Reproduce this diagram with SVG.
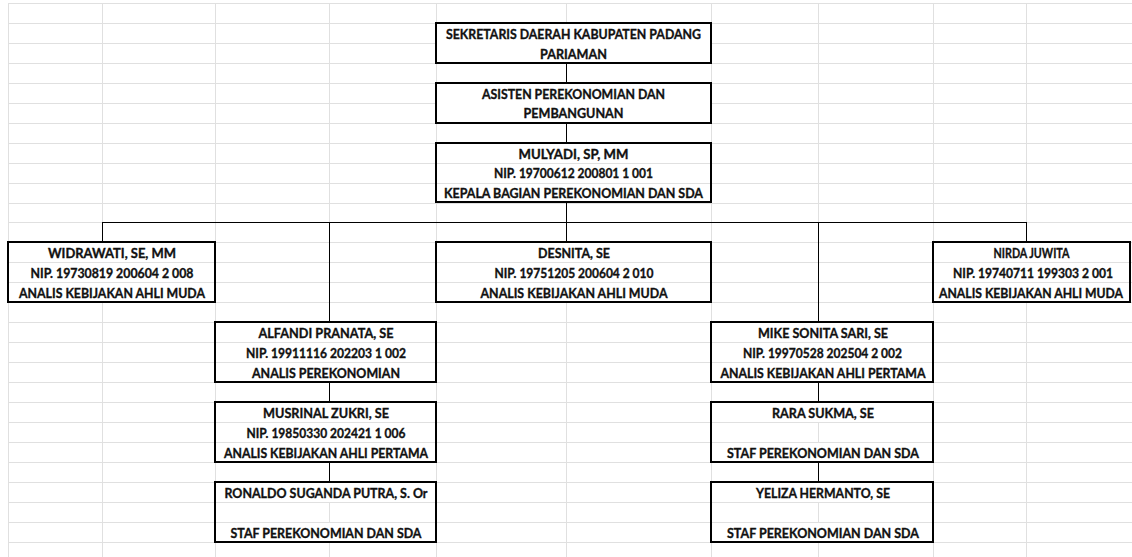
<svg xmlns="http://www.w3.org/2000/svg" width="1132" height="557" viewBox="0 0 1132 557">
<style>
.g{stroke:#e0e0e0;stroke-width:1;fill:none}
.m{fill:#fff;stroke:none}
.box{fill:none;stroke:#000;stroke-width:2}
.c{stroke:#000;stroke-width:1;fill:none}
text{font-family:Lato,"Liberation Sans",sans-serif;font-weight:700;font-size:13.5px;fill:#111;stroke:#111;stroke-width:0.35;text-anchor:middle}
</style>
<rect x="0" y="0" width="1132" height="557" fill="#fff"/>
<g id="grid">
<path class="g" d="M8.5 3V557M102.5 3V557M215.5 3V557M329.5 3V557M436.5 3V557M566.5 3V557M711.5 3V557M818.5 3V557M933.5 3V557M1026.5 3V557"/>
<path class="g" d="M8 3.5H1132M8 23.5H1132M8 43.5H1132M8 63.5H1132M8 83.5H1132M8 103.5H1132M8 123.5H1132M8 143.5H1132M8 163.5H1132M8 183.5H1132M8 203.5H1132M8 222.5H1132M8 242.5H1132M8 262.5H1132M8 282.5H1132M8 302.5H1132M8 322.5H1132M8 342.5H1132M8 362.5H1132M8 382.5H1132M8 402.5H1132M8 422.5H1132M8 442.5H1132M8 462.5H1132M8 482.5H1132M8 502.5H1132M8 522.5H1132M8 542.5H1132"/>
</g>
<g id="masks">
<rect class="m" x="437" y="24" width="274" height="39"/>
<rect class="m" x="437" y="84" width="274" height="39"/>
<rect class="m" x="437" y="144" width="274" height="19"/>
<rect class="m" x="437" y="164" width="274" height="19"/>
<rect class="m" x="437" y="184" width="274" height="18"/>
<rect class="m" x="9" y="243" width="206" height="19"/>
<rect class="m" x="9" y="263" width="206" height="19"/>
<rect class="m" x="9" y="283" width="206" height="19"/>
<rect class="m" x="437" y="243" width="274" height="19"/>
<rect class="m" x="437" y="263" width="274" height="19"/>
<rect class="m" x="437" y="283" width="274" height="19"/>
<rect class="m" x="934" y="243" width="196" height="19"/>
<rect class="m" x="934" y="263" width="196" height="19"/>
<rect class="m" x="934" y="283" width="196" height="19"/>
<rect class="m" x="216" y="323" width="220" height="19"/>
<rect class="m" x="216" y="343" width="220" height="19"/>
<rect class="m" x="216" y="363" width="220" height="19"/>
<rect class="m" x="216" y="403" width="220" height="19"/>
<rect class="m" x="216" y="423" width="220" height="19"/>
<rect class="m" x="216" y="443" width="220" height="19"/>
<rect class="m" x="216" y="483" width="220" height="19"/>
<rect class="m" x="216" y="523" width="220" height="19"/>
<rect class="m" x="712" y="323" width="221" height="19"/>
<rect class="m" x="712" y="343" width="221" height="19"/>
<rect class="m" x="712" y="363" width="221" height="19"/>
<rect class="m" x="712" y="403" width="221" height="19"/>
<rect class="m" x="712" y="443" width="221" height="19"/>
<rect class="m" x="712" y="483" width="221" height="19"/>
<rect class="m" x="712" y="523" width="221" height="19"/>
</g>
<g id="connectors">
<path class="c" d="M566.5 63V83M566.5 123V143M566.5 202V242M102.5 222.5H1026.5M102.5 222V242M329.5 222V322M818.5 222V322M1026.5 222V242M329.5 382V402M329.5 462V482M818.5 382V402M818.5 462V482"/>
</g>
<g id="sekda">
<rect class="box" x="436" y="23" width="275" height="40"/>
<text x="573.5" y="39" textLength="255" lengthAdjust="spacingAndGlyphs">SEKRETARIS DAERAH KABUPATEN PADANG</text>
<text x="573.5" y="58.5" textLength="67" lengthAdjust="spacingAndGlyphs">PARIAMAN</text>
</g>
<g id="asisten">
<rect class="box" x="436" y="83" width="275" height="40"/>
<text x="573.5" y="98.5" textLength="183" lengthAdjust="spacingAndGlyphs">ASISTEN PEREKONOMIAN DAN</text>
<text x="573.5" y="118" textLength="100" lengthAdjust="spacingAndGlyphs">PEMBANGUNAN</text>
</g>
<g id="mulyadi">
<rect class="box" x="436" y="143" width="275" height="59"/>
<text x="573.5" y="158.5" textLength="110" lengthAdjust="spacingAndGlyphs">MULYADI, SP, MM</text>
<text x="573.5" y="178" textLength="159" lengthAdjust="spacingAndGlyphs">NIP. 19700612 200801 1 001</text>
<text x="573.5" y="197.5" textLength="259" lengthAdjust="spacingAndGlyphs">KEPALA BAGIAN PEREKONOMIAN DAN SDA</text>
</g>
<g id="widrawati">
<rect class="box" x="8" y="242" width="207" height="60"/>
<text x="112" y="257.5" textLength="128" lengthAdjust="spacingAndGlyphs">WIDRAWATI, SE, MM</text>
<text x="112" y="277.5" textLength="163" lengthAdjust="spacingAndGlyphs">NIP. 19730819 200604 2 008</text>
<text x="112" y="297.5" textLength="186" lengthAdjust="spacingAndGlyphs">ANALIS KEBIJAKAN AHLI MUDA</text>
</g>
<g id="desnita">
<rect class="box" x="436" y="242" width="275" height="60"/>
<text x="574" y="257.5" textLength="72" lengthAdjust="spacingAndGlyphs">DESNITA, SE</text>
<text x="574" y="277.5" textLength="159" lengthAdjust="spacingAndGlyphs">NIP. 19751205 200604 2 010</text>
<text x="574" y="297.5" textLength="187" lengthAdjust="spacingAndGlyphs">ANALIS KEBIJAKAN AHLI MUDA</text>
</g>
<g id="nirda">
<rect class="box" x="933" y="242" width="197" height="60"/>
<text x="1031.5" y="257.5" textLength="76" lengthAdjust="spacingAndGlyphs">NIRDA JUWITA</text>
<text x="1033" y="277.5" textLength="160" lengthAdjust="spacingAndGlyphs">NIP. 19740711 199303 2 001</text>
<text x="1031" y="297.5" textLength="184" lengthAdjust="spacingAndGlyphs">ANALIS KEBIJAKAN AHLI MUDA</text>
</g>
<g id="alfandi">
<rect class="box" x="215" y="322" width="221" height="60"/>
<text x="326" y="337.5" textLength="135" lengthAdjust="spacingAndGlyphs">ALFANDI PRANATA, SE</text>
<text x="326" y="357.5" textLength="160" lengthAdjust="spacingAndGlyphs">NIP. 19911116 202203 1 002</text>
<text x="326" y="377.5" textLength="148" lengthAdjust="spacingAndGlyphs">ANALIS PEREKONOMIAN</text>
</g>
<g id="musrinal">
<rect class="box" x="215" y="402" width="221" height="60"/>
<text x="326" y="417.5" textLength="126" lengthAdjust="spacingAndGlyphs">MUSRINAL ZUKRI, SE</text>
<text x="326" y="437.5" textLength="159" lengthAdjust="spacingAndGlyphs">NIP. 19850330 202421 1 006</text>
<text x="326" y="457.5" textLength="204" lengthAdjust="spacingAndGlyphs">ANALIS KEBIJAKAN AHLI PERTAMA</text>
</g>
<g id="ronaldo">
<rect class="box" x="215" y="482" width="221" height="60"/>
<text x="326" y="497.5" textLength="203" lengthAdjust="spacingAndGlyphs">RONALDO SUGANDA PUTRA, S. Or</text>
<text x="326" y="537.5" textLength="191" lengthAdjust="spacingAndGlyphs">STAF PEREKONOMIAN DAN SDA</text>
</g>
<g id="mike">
<rect class="box" x="711" y="322" width="222" height="60"/>
<text x="823" y="337.5" textLength="130" lengthAdjust="spacingAndGlyphs">MIKE SONITA SARI, SE</text>
<text x="822.5" y="357.5" textLength="159" lengthAdjust="spacingAndGlyphs">NIP. 19970528 202504 2 002</text>
<text x="823" y="377.5" textLength="205" lengthAdjust="spacingAndGlyphs">ANALIS KEBIJAKAN AHLI PERTAMA</text>
</g>
<g id="rara">
<rect class="box" x="711" y="402" width="222" height="60"/>
<text x="823" y="417.5" textLength="102" lengthAdjust="spacingAndGlyphs">RARA SUKMA, SE</text>
<text x="823" y="457.5" textLength="192" lengthAdjust="spacingAndGlyphs">STAF PEREKONOMIAN DAN SDA</text>
</g>
<g id="yeliza">
<rect class="box" x="711" y="482" width="222" height="60"/>
<text x="823" y="497.5" textLength="134" lengthAdjust="spacingAndGlyphs">YELIZA HERMANTO, SE</text>
<text x="823" y="537.5" textLength="192" lengthAdjust="spacingAndGlyphs">STAF PEREKONOMIAN DAN SDA</text>
</g>
</svg>
